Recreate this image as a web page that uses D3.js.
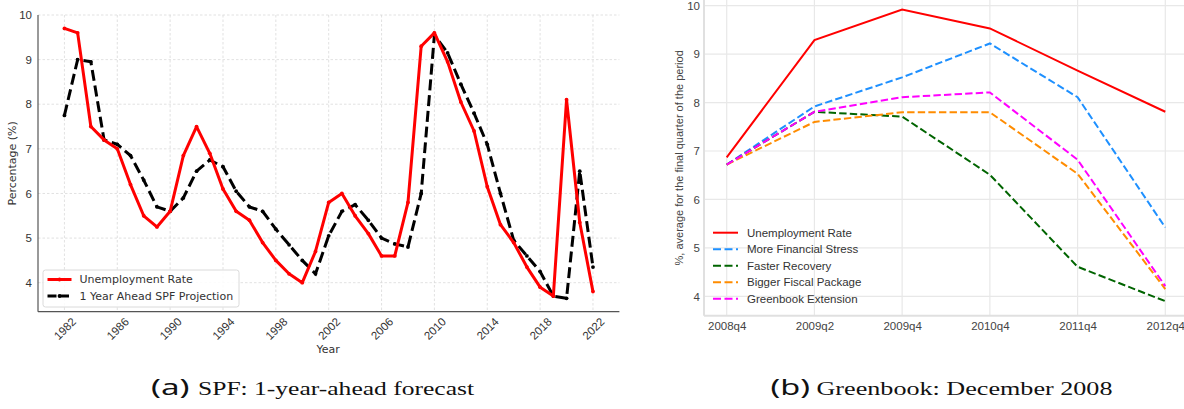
<!DOCTYPE html>
<html>
<head>
<meta charset="utf-8">
<script src="https://cdn.jsdelivr.net/npm/d3@7"></script>
<style>
  html, body { margin: 0; padding: 0; background: #fff; }
  svg { display: block; }
</style>
</head>
<body>
<svg id="fig" width="1184" height="409"></svg>
<script>
// ---- Panel (a): unemployment rate vs. 1-year-ahead SPF projection ----
const years = d3.range(1982, 2023);
const unemploymentRate = [
  9.7, 9.6, 7.5, 7.2, 7.0, 6.2, 5.5, 5.25, 5.6, 6.85,
  7.5, 6.9, 6.1, 5.6, 5.4, 4.9, 4.5, 4.2, 4.0, 4.7,
  5.8, 6.0, 5.5, 5.1, 4.6, 4.6, 5.8, 9.3, 9.6, 8.95,
  8.05, 7.4, 6.15, 5.3, 4.9, 4.35, 3.9, 3.7, 8.1, 5.35,
  3.8
];
const spfProjection = [
  7.75, 9.0, 8.95, 7.2, 7.1, 6.85, 6.3, 5.7, 5.6, 5.9,
  6.5, 6.75, 6.6, 6.05, 5.7, 5.6, 5.2, 4.85, 4.5, 4.2,
  5.05, 5.6, 5.75, 5.4, 5.0, 4.87, 4.8, 6.0, 9.55, 9.15,
  8.45, 7.8, 7.1, 6.0, 4.95, 4.6, 4.25, 3.7, 3.65, 6.5,
  4.35
];
const yearTicks = [1982, 1986, 1990, 1994, 1998, 2002, 2006, 2010, 2014, 2018, 2022];
const pctTicksA = [4, 5, 6, 7, 8, 9, 10];

// ---- Panel (b): Greenbook scenarios, December 2008 ----
const quarters = ["2008q4", "2009q2", "2009q4", "2010q4", "2011q4", "2012q4"];
const gbUnemployment = [6.87, 9.29, 9.92, 9.53, 8.66, 7.81];
const gbFinancialStress = [6.72, 7.92, 8.52, 9.22, 8.11, 5.42];
const gbFasterRecovery = [6.72, 7.81, 7.71, 6.51, 4.61, 3.90];
const gbFiscalPackage = [6.72, 7.60, 7.80, 7.80, 6.53, 4.15];
const gbExtension = [6.72, 7.81, 8.11, 8.21, 6.82, 4.21];
const pctTicksB = [4, 5, 6, 7, 8, 9, 10];

const svg = d3.select("#fig");
const intFmt = d3.format("d");

// ======================= Panel (a) =======================
const ax = { left: 38, right: 619.4, top: 15, bottom: 311.7 };
const xA = d3.scaleLinear().domain([1980, 2024]).range([ax.left, ax.right]);
const yA = d3.scaleLinear().domain([3.35, 10]).range([ax.bottom, ax.top]);
const gA = svg.append("g").attr("font-family", "DejaVu Sans, sans-serif");

// grid
gA.append("g").selectAll("line").data(yearTicks).join("line")
  .attr("x1", d => xA(d)).attr("x2", d => xA(d))
  .attr("y1", ax.top).attr("y2", ax.bottom)
  .attr("stroke", "#d9d9d9").attr("stroke-width", 0.8).attr("stroke-dasharray", "2.5,2");
gA.append("g").selectAll("line").data(pctTicksA).join("line")
  .attr("x1", ax.left).attr("x2", ax.right)
  .attr("y1", d => yA(d)).attr("y2", d => yA(d))
  .attr("stroke", "#d9d9d9").attr("stroke-width", 0.8).attr("stroke-dasharray", "2.5,2");

// axes
const yAxisA = d3.axisLeft(yA).tickValues(pctTicksA).tickFormat(intFmt).tickSize(0).tickPadding(6);
const yg = gA.append("g").attr("transform", `translate(${ax.left},0)`).call(yAxisA);
yg.select(".domain").attr("d", `M0,${ax.top}V${ax.bottom}`).attr("stroke", "#555").attr("stroke-width", 1.2);
yg.selectAll("text").attr("font-size", 11.5).attr("fill", "#333");

const xAxisA = d3.axisBottom(xA).tickValues(yearTicks).tickFormat(intFmt).tickSize(0);
const xg = gA.append("g").attr("transform", `translate(0,${ax.bottom})`).call(xAxisA);
xg.select(".domain").attr("d", `M${ax.left},0H${ax.right}`).attr("stroke", "#555").attr("stroke-width", 1.2);
xg.selectAll("text")
  .attr("font-size", 11.5).attr("fill", "#333")
  .attr("text-anchor", "middle").attr("dy", null).attr("y", null)
  .attr("dominant-baseline", "central")
  .attr("transform", "translate(0,17) rotate(-45)");

gA.append("text").text("Year")
  .attr("x", (ax.left + ax.right) / 2 - 0.5).attr("y", 353)
  .attr("text-anchor", "middle").attr("font-size", 11).attr("fill", "#333");
gA.append("text").text("Percentage (%)")
  .attr("transform", `translate(16,${(ax.top + ax.bottom) / 2}) rotate(-90)`)
  .attr("text-anchor", "middle").attr("font-size", 11).attr("fill", "#333");

// series
const lineA = vals => d3.line().x((d, i) => xA(years[i])).y(d => yA(d))(vals);
gA.append("path").attr("d", lineA(spfProjection))
  .attr("fill", "none").attr("stroke", "#000").attr("stroke-width", 3)
  .attr("stroke-dasharray", "11,4.8");
gA.append("g").selectAll("circle").data(spfProjection).join("circle")
  .attr("cx", (d, i) => xA(years[i])).attr("cy", d => yA(d)).attr("r", 1.9).attr("fill", "#000");
gA.append("path").attr("d", lineA(unemploymentRate))
  .attr("fill", "none").attr("stroke", "#ff0000").attr("stroke-width", 3)
  .attr("stroke-linejoin", "round");
gA.append("g").selectAll("circle").data(unemploymentRate).join("circle")
  .attr("cx", (d, i) => xA(years[i])).attr("cy", d => yA(d)).attr("r", 1.9).attr("fill", "#ff0000");

// legend
const legA = gA.append("g").attr("transform", "translate(43,270)");
legA.append("rect").attr("width", 196).attr("height", 37).attr("rx", 2.5)
  .attr("fill", "#fff").attr("fill-opacity", 0.85).attr("stroke", "#d0d0d0").attr("stroke-width", 0.8);
const legendA = [
  { name: "Unemployment Rate", color: "#ff0000", dash: null },
  { name: "1 Year Ahead SPF Projection", color: "#000", dash: "9,3.5" }
];
legendA.forEach((s, i) => {
  const yy = 9.5 + i * 16.5;
  legA.append("line").attr("x1", 4.5).attr("x2", 28.5).attr("y1", yy).attr("y2", yy)
    .attr("stroke", s.color).attr("stroke-width", 3).attr("stroke-dasharray", s.dash);
  legA.append("circle").attr("cx", 16.5).attr("cy", yy).attr("r", 1.9).attr("fill", s.color);
  legA.append("text").text(s.name).attr("x", 36.5).attr("y", yy)
    .attr("dominant-baseline", "central").attr("font-size", 11).attr("fill", "#333");
});

// ======================= Panel (b) =======================
const bx = { left: 704, right: 1184, top: 0, bottom: 315.7 };
const xB = d3.scalePoint().domain(quarters).range([726.7, 1165.3]);
const yB = d3.scaleLinear().domain([3.6, 10.2]).range([bx.bottom, -4]);
const gB = svg.append("g").attr("font-family", "Liberation Sans, Arial, sans-serif");

gB.append("g").selectAll("line").data(quarters).join("line")
  .attr("x1", d => xB(d)).attr("x2", d => xB(d))
  .attr("y1", bx.top).attr("y2", bx.bottom)
  .attr("stroke", "#e8e8e8").attr("stroke-width", 1.2);
gB.append("g").selectAll("line").data(pctTicksB).join("line")
  .attr("x1", bx.left).attr("x2", bx.right)
  .attr("y1", d => yB(d)).attr("y2", d => yB(d))
  .attr("stroke", "#e8e8e8").attr("stroke-width", 1.2);

const yAxisB = d3.axisLeft(yB).tickValues(pctTicksB).tickFormat(intFmt).tickSize(0).tickPadding(4);
const ygB = gB.append("g").attr("transform", `translate(${bx.left},0)`).call(yAxisB);
ygB.select(".domain").attr("d", `M0,${bx.top}V${bx.bottom}`).attr("stroke", "#e0e0e0").attr("stroke-width", 2);
ygB.selectAll("text").attr("font-size", 11.5).attr("fill", "#444");

const xAxisB = d3.axisBottom(xB).tickSize(0).tickPadding(6);
const xgB = gB.append("g").attr("transform", `translate(0,${bx.bottom})`).call(xAxisB);
xgB.select(".domain").attr("d", `M${bx.left},0H${bx.right}`).attr("stroke", "#e0e0e0").attr("stroke-width", 2);
xgB.selectAll("text").attr("font-size", 11.5).attr("fill", "#444");

gB.append("text").text("%, average for the final quarter of the period")
  .attr("transform", `translate(683,${(bx.top + bx.bottom) / 2}) rotate(-90)`)
  .attr("text-anchor", "middle").attr("font-size", 11).attr("fill", "#444");

const seriesB = [
  { name: "Unemployment Rate", values: gbUnemployment, color: "#ff0000", dash: null },
  { name: "More Financial Stress", values: gbFinancialStress, color: "#1e90ff", dash: "7.4,3.2" },
  { name: "Faster Recovery", values: gbFasterRecovery, color: "#006400", dash: "7.4,3.2" },
  { name: "Bigger Fiscal Package", values: gbFiscalPackage, color: "#ff8c00", dash: "7.4,3.2" },
  { name: "Greenbook Extension", values: gbExtension, color: "#ff00ff", dash: "7.4,3.2" }
];
const lineB = d3.line().x((d, i) => xB(quarters[i])).y(d => yB(d));
// dashed scenarios under, solid unemployment path on top
[...seriesB.slice(1), seriesB[0]].forEach(s => {
  gB.append("path").attr("d", lineB(s.values))
    .attr("fill", "none").attr("stroke", s.color).attr("stroke-width", 2)
    .attr("stroke-dasharray", s.dash);
});

const legB = gB.append("g").attr("transform", "translate(713,232.7)");
seriesB.forEach((s, i) => {
  const yy = i * 16.5;
  legB.append("line").attr("x1", 0).attr("x2", 25).attr("y1", yy).attr("y2", yy)
    .attr("stroke", s.color).attr("stroke-width", 2).attr("stroke-dasharray", s.dash ? "8,3.5" : null);
  legB.append("text").text(s.name).attr("x", 34).attr("y", yy)
    .attr("dominant-baseline", "central").attr("font-size", 11.5).attr("fill", "#333");
});

// ======================= Captions =======================
const captions = [
  { tag: "(a)", tagX: 151, tagW: 38.5, text: "SPF: 1-year-ahead forecast", textX: 198, width: 276 },
  { tag: "(b)", tagX: 770.5, tagW: 39.5, text: "Greenbook: December 2008", textX: 816.5, width: 296 }
];
captions.forEach(c => {
  svg.append("text").text(c.tag).attr("x", c.tagX).attr("y", 395)
    .attr("font-family", "Noto Sans, DejaVu Sans, sans-serif").attr("font-size", 22).attr("fill", "#111")
    .attr("textLength", c.tagW).attr("lengthAdjust", "spacingAndGlyphs");
  svg.append("text").text(c.text).attr("x", c.textX).attr("y", 395)
    .attr("font-family", "Liberation Serif, serif").attr("font-size", 19).attr("fill", "#111")
    .attr("textLength", c.width).attr("lengthAdjust", "spacingAndGlyphs");
});
</script>
</body>
</html>
